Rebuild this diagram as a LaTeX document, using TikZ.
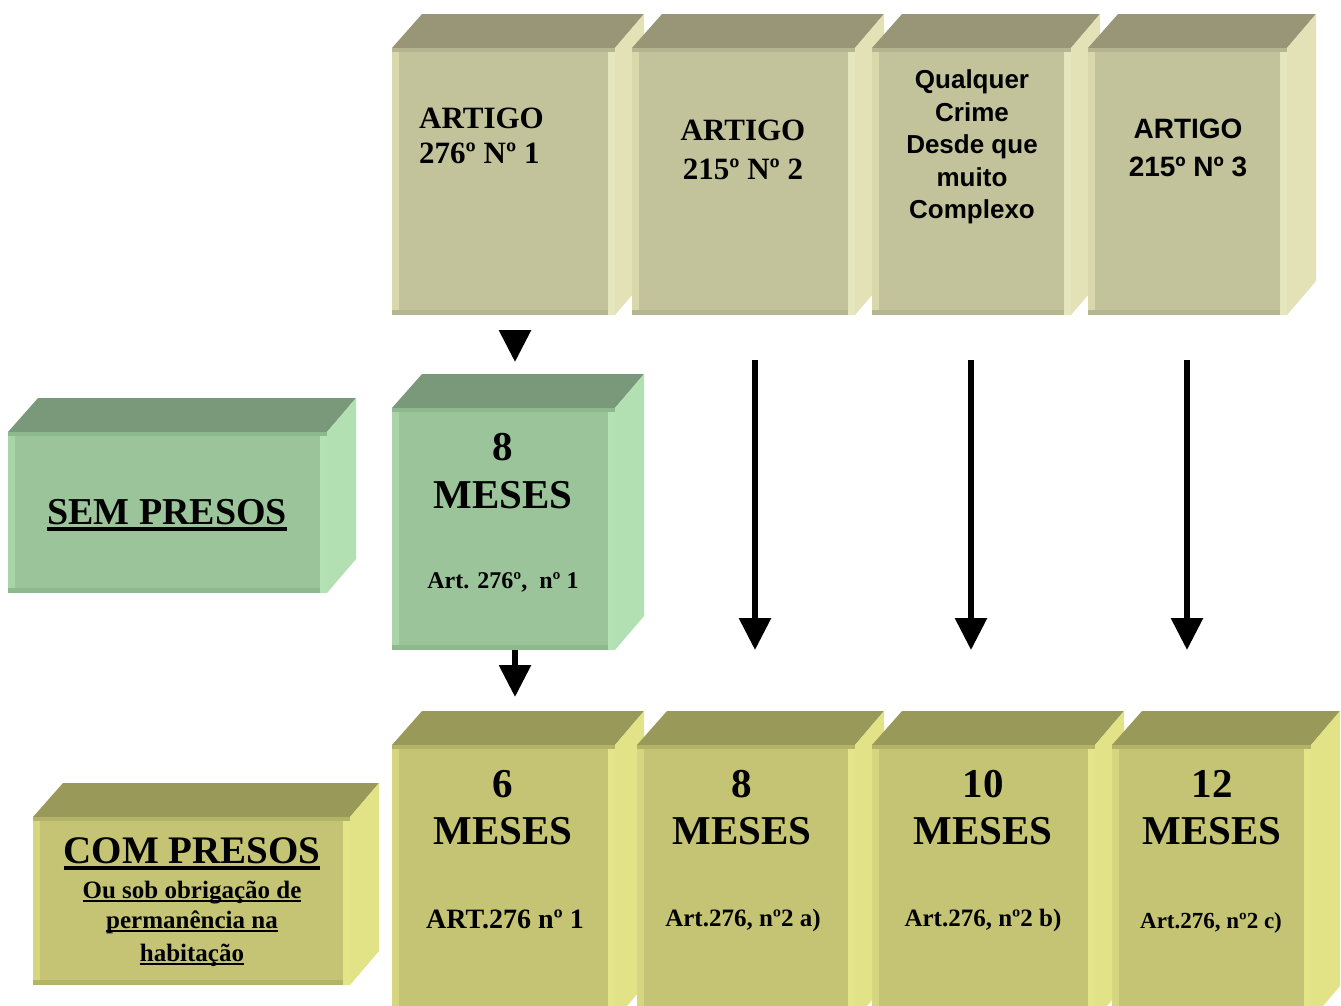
\documentclass[tikz,border=0pt]{standalone}
\usepackage{fontspec}
\setmainfont{Liberation Serif}
\newfontfamily\arialf{Liberation Sans}
\usetikzlibrary{arrows.meta}

\definecolor{khF}{RGB}{195,195,155}
\definecolor{khT}{RGB}{152,150,118}
\definecolor{khS}{RGB}{226,226,182}
\definecolor{khL}{RGB}{216,216,172}
\definecolor{khR}{RGB}{230,230,190}
\definecolor{khU}{RGB}{181,181,143}
\definecolor{grF}{RGB}{155,196,155}
\definecolor{grT}{RGB}{122,152,122}
\definecolor{grS}{RGB}{178,224,178}
\definecolor{grL}{RGB}{168,212,168}
\definecolor{grR}{RGB}{180,226,180}
\definecolor{grU}{RGB}{142,184,142}
\definecolor{olF}{RGB}{196,196,116}
\definecolor{olT}{RGB}{153,153,90}
\definecolor{olS}{RGB}{226,226,134}
\definecolor{olL}{RGB}{214,214,128}
\definecolor{olR}{RGB}{228,228,136}
\definecolor{olU}{RGB}{180,180,104}

\newcommand\ulin[3]{\vtop{\hbox{\raisebox{0pt}[\height][0pt]{#3}}\kern#1\hrule height#2\relax}}

% name, x0, y0, x1, y1, palette
\newcommand\cubebox[6]{%
  \fill[#6T] (#2,#3) -- ({#2+30},{#3-34}) -- ({#4+29},{#3-34}) -- (#4,#3) -- cycle;
  \fill[#6S] (#4,#3) -- ({#4+29},{#3-34}) -- ({#4+29},{#5-34}) -- (#4,#5) -- cycle;
  \node[name=#1, fill=#6F, inner sep=0pt, outer sep=0pt, anchor=north west,
        minimum width={#4-#2}, minimum height={#5-#3}] at (#2,#3) {};
  \fill[#6L] (#2,#3) rectangle ({#2+7},#5);
  \fill[#6R] ({#4-7},#3) rectangle (#4,#5);
  \fill[#6U] (#2,#3) rectangle (#4,{#3+4});
  \fill[#6U] (#2,{#5-5}) rectangle ({#4-7},#5);
}

\tikzset{
  serifb/.style={font=\fontsize{#1}{#1}\selectfont\bfseries, inner sep=0pt, anchor=base},
  sansb/.style={font=\arialf\fontsize{#1}{#1}\selectfont\bfseries, inner sep=0pt, anchor=base},
  arr/.style={line width=6pt, -{Triangle[length=32pt,width=31pt]}},
}

\begin{document}
\begin{tikzpicture}[x=1pt,y=-1pt]
\useasboundingbox (0,0) rectangle (1341,1005);
\clip (0,0) rectangle (1341,1005);
\fill[white] (0,0) rectangle (1341,1005);

% top row
\cubebox{t1}{392}{48}{615}{315}{kh}
\cubebox{t2}{632}{48}{855}{315}{kh}
\cubebox{t3}{872}{48}{1071}{315}{kh}
\cubebox{t4}{1088}{48}{1287}{315}{kh}

% middle row
\cubebox{sem}{8}{432}{327}{593}{gr}
\cubebox{m1}{392}{408}{615}{650}{gr}

% bottom row
\cubebox{com}{33}{817}{350}{985}{ol}
\cubebox{b1}{392}{745}{615}{1020}{ol}
\cubebox{b2}{637}{745}{855}{1020}{ol}
\cubebox{b3}{872}{745}{1095}{1020}{ol}
\cubebox{b4}{1112}{745}{1311}{1020}{ol}

% top texts
\node[serifb=31, anchor=base west] (t1a) at (419,128) {ARTIGO};
\node[serifb=31, anchor=base west] (t1b) at (419,163) {276º Nº 1};
\node[serifb=31] (t2a) at (743,140) {ARTIGO};
\node[serifb=31] (t2b) at (743,179) {215º Nº 2};
\node[sansb=26] (t3a) at (972,88) {Qualquer};
\node[sansb=26] (t3b) at (972,121) {Crime};
\node[sansb=26] (t3c) at (972,153) {Desde que};
\node[sansb=26] (t3d) at (972,186) {muito};
\node[sansb=26] (t3e) at (972,218) {Complexo};
\node[sansb=28] (t4a) at (1188,138) {ARTIGO};
\node[sansb=28] (t4b) at (1188,176) {215º Nº 3};

% middle texts
\node[serifb=38] (semt) at (167,524) {\ulin{3pt}{3.5pt}{SEM PRESOS}};
\node[serifb=41] (m1a) at (503,460) {8};
\node[serifb=41] (m1b) at (503,508) {MESES};
\node[serifb=24] (m1c) at (503,588) {Art. 276º,\ \ nº 1};

% bottom texts
\node[serifb=39] (comt) at (192,863) {\ulin{3pt}{3.5pt}{COM PRESOS}};
\node[serifb=25] (coma) at (192,898) {\ulin{2pt}{2pt}{Ou sob obrigação de}};
\node[serifb=25] (comb) at (192,928) {\ulin{2pt}{2pt}{permanência na}};
\node[serifb=25] (comc) at (192,961) {\ulin{2pt}{2pt}{habitação}};

\node[serifb=41] (b1a) at (503,797) {6};
\node[serifb=41] (b1b) at (503,844) {MESES};
\node[serifb=28] (b1c) at (505,928) {ART.276 nº 1};
\node[serifb=41] (b2a) at (742,797) {8};
\node[serifb=41] (b2b) at (742,844) {MESES};
\node[serifb=25] (b2c) at (743,926) {Art.276, nº2 a)};
\node[serifb=41] (b3a) at (983,797) {10};
\node[serifb=41] (b3b) at (983,844) {MESES};
\node[serifb=25] (b3c) at (983,926) {Art.276, nº2 b)};
\node[serifb=41] (b4a) at (1212,797) {12};
\node[serifb=41] (b4b) at (1212,844) {MESES};
\node[serifb=23] (b4c) at (1211,928) {Art.276, nº2 c)};

% arrows
\coordinate (a1s) at (515,330);
\coordinate (a1e) at (515,362);
\coordinate (a2s) at (515,650);
\coordinate (a2e) at (515,697);
\coordinate (a3s) at (755,360);
\coordinate (a3e) at (755,650);
\coordinate (a4s) at (971,360);
\coordinate (a4e) at (971,650);
\coordinate (a5s) at (1187,360);
\coordinate (a5e) at (1187,650);
\draw[arr] (a1s) -- (a1e);
\draw[arr] (a2s) -- (a2e);
\draw[arr] (a3s) -- (a3e);
\draw[arr] (a4s) -- (a4e);
\draw[arr] (a5s) -- (a5e);
\end{tikzpicture}
\end{document}
